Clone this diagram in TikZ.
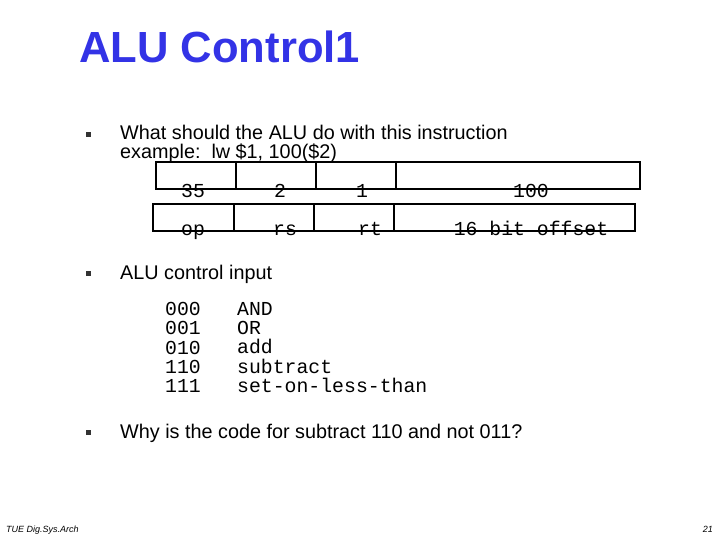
\documentclass[tikz,border=0pt]{standalone}
\usepackage{fontspec}
\setmainfont{Liberation Sans}
\newfontfamily\monof{Liberation Mono}
\definecolor{ttl}{RGB}{51,51,230}
\begin{document}
\begin{tikzpicture}[x=1pt,y=-1pt,
  body/.style={anchor=base west,inner sep=0pt,font=\fontsize{19.8}{19.8}\selectfont},
  mono/.style={anchor=base,inner sep=0pt,font=\monof\fontsize{19.8}{19.8}\selectfont},
  box/.style={draw,line width=2pt},
  bul/.style={fill=black!80,minimum size=5pt,inner sep=0pt}]
\useasboundingbox (0,0) rectangle (720,540);
\node[anchor=base west,inner sep=0pt,text=ttl,font=\bfseries\fontsize{43.6}{43.6}\selectfont] (title) at (79,63) {ALU Control1};
\node[bul] (b1) at (88,135) {};
\node[body] (t1) at (120,140) {What should the ALU do with this instruction};
\node[body] (t1b) at (120,159) {example:\ \ lw \$1, 100(\$2)};
\draw[box] (156,162) rectangle (640,189);
\draw[box] (236,162) -- (236,189) (316,162) -- (316,189) (396,162) -- (396,189);
\draw[box] (153,204) rectangle (635,231);
\draw[box] (234,204) -- (234,231) (314,204) -- (314,231) (394,204) -- (394,231);
\node[mono] (v1) at (193,197) {35};
\node[mono] (v2) at (280,197) {2};
\node[mono] (v3) at (362,197) {1};
\node[mono] (v4) at (531,197) {100};
\node[mono] (f1) at (193,236) {op};
\node[mono] (f2) at (285,236) {rs};
\node[mono] (f3) at (370,236) {rt};
\node[mono] (f4) at (531,236) {16 bit offset};
\node[bul] (b2) at (88,273) {};
\node[body] (t2) at (120,279) {ALU control input};
\node[anchor=north west,inner sep=0pt,align=left,font=\monof\fontsize{19.8}{19.3}\selectfont] (codes) at (165,302) {000\\001\\010\\110\\111};
\node[anchor=north west,inner sep=0pt,align=left,font=\monof\fontsize{19.8}{19.3}\selectfont] (ops) at (237,302) {AND\\OR\\add\\subtract\\set-on-less-than};
\node[bul] (b3) at (88,432) {};
\node[body] (t3) at (120,438) {Why is the code for subtract 110 and not 011?};
\node[anchor=base west,inner sep=0pt,font=\itshape\fontsize{9}{9}\selectfont] (foot) at (6,532) {TUE Dig.Sys.Arch};
\node[anchor=base east,inner sep=0pt,font=\itshape\fontsize{9}{9}\selectfont] (pg) at (713,532) {21};
\end{tikzpicture}
\end{document}
